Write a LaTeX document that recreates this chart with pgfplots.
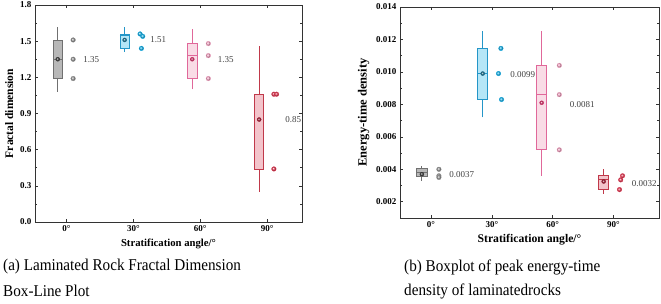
\documentclass[border=0pt]{standalone}
\usepackage{pgfplots}
\pgfplotsset{compat=1.18}
\usepackage{fontspec}
\setmainfont{Liberation Serif}
\definecolor{gfill}{HTML}{B8B8B8}\definecolor{gedge}{HTML}{707070}\definecolor{gpt}{HTML}{9A9A9A}\definecolor{gmean}{HTML}{3A3A3A}
\definecolor{cfill}{HTML}{B5E6F7}\definecolor{cedge}{HTML}{2496C8}\definecolor{cpt}{HTML}{1EB4EA}\definecolor{cmean}{HTML}{1A6F8F}
\definecolor{pfill}{HTML}{F9DCE6}\definecolor{pedge}{HTML}{E0689A}\definecolor{ppt}{HTML}{F4A6C4}\definecolor{pmean}{HTML}{D8306A}
\definecolor{rfill}{HTML}{F3C4CB}\definecolor{redge}{HTML}{C0394A}\definecolor{rpt}{HTML}{E8405A}\definecolor{rmean}{HTML}{A01830}
\pgfplotsset{
  mystyle/.style={
    scale only axis, anchor=south west,
    tick align=inside, major tick length=3pt, minor tick length=1.6pt,
    axis line style={draw=black!80, line width=0.7pt},
    every tick/.style={black!80, line width=0.6pt},
    xtick={0,1,2,3}, xticklabels={0°,30°,60°,90°},
    tick label style={font=\bfseries\fontsize{9}{10}\selectfont},
    /pgf/number format/assume math mode=true,
    xlabel={Stratification angle/°},
    minor y tick num=1,
  },
  bx/.style 2 args={draw=#1, fill=#2, line width=0.8pt, mark=none},
  wh/.style={draw=#1, line width=0.8pt, mark=none},
  mean/.style={only marks, color=#1, mark=ball, mark size=2pt, mark options={ball color=#1}},
  pts/.style={only marks, color=#1, mark=ball, mark size=2.3pt, mark options={ball color=#1}},
}
\begin{document}
\begin{tikzpicture}
\useasboundingbox (0pt,0pt) rectangle (661pt,303pt);
% ---------------- left -----------------
\begin{axis}[mystyle, at={(35pt,81pt)}, width=267pt, height=217pt,
  xmin=-0.47, xmax=3.52, ymin=0, ymax=1.8,
  ytick={0,0.3,0.6,0.9,1.2,1.5,1.8},
  yticklabel style={/pgf/number format/.cd, fixed, fixed zerofill, precision=1},
  xlabel style={font=\bfseries\fontsize{10.7}{12}\selectfont},
  ylabel style={font=\bfseries\fontsize{11.5}{13}\selectfont},
  ylabel={Fractal dimension}]
% 0 deg
\addplot[wh=gedge] coordinates {(-0.13,1.08)(-0.13,1.62)};
\addplot[bx={gedge}{gfill}] coordinates {(-0.20,1.19)(-0.06,1.19)(-0.06,1.51)(-0.20,1.51)} -- cycle;
\addplot[wh=gedge] coordinates {(-0.20,1.35)(-0.06,1.35)};
% 30 deg
\addplot[wh=cedge] coordinates {(0.87,1.41)(0.87,1.62)};
\addplot[bx={cedge}{cfill}] coordinates {(0.80,1.44)(0.94,1.44)(0.94,1.56)(0.80,1.56)} -- cycle;
\addplot[wh=cedge] coordinates {(0.80,1.55)(0.94,1.55)};
% 60 deg
\addplot[wh=pedge] coordinates {(1.88,1.10)(1.88,1.60)};
\addplot[bx={pedge}{pfill}] coordinates {(1.81,1.19)(1.95,1.19)(1.95,1.48)(1.81,1.48)} -- cycle;
\addplot[wh=pedge] coordinates {(1.81,1.38)(1.95,1.38)};
% 90 deg
\addplot[wh=redge] coordinates {(2.88,0.25)(2.88,1.46)};
\addplot[bx={redge}{rfill}] coordinates {(2.81,0.44)(2.95,0.44)(2.95,1.06)(2.81,1.06)} -- cycle;
\addplot[wh=redge] coordinates {(2.81,1.06)(2.95,1.06)};
\addplot[mean=gmean] coordinates {(-0.13,1.35)};
\addplot[mean=cmean] coordinates {(0.87,1.51)};
\addplot[mean=pmean] coordinates {(1.88,1.35)};
\addplot[mean=rmean] coordinates {(2.88,0.85)};
\addplot[pts=gpt] coordinates {(0.1,1.51)(0.1,1.35)(0.1,1.19)};
\addplot[pts=cpt] coordinates {(1.10,1.56)(1.14,1.54)(1.12,1.44)};
\addplot[pts=ppt] coordinates {(2.12,1.48)(2.12,1.38)(2.12,1.19)};
\addplot[pts=rpt] coordinates {(3.10,1.06)(3.14,1.06)(3.10,0.44)};
\begin{scope}[every node/.style={anchor=west, font=\fontsize{9}{10}\selectfont, text=black!75, inner sep=0pt}]
\node at (axis cs:0.25,1.35) {1.35};
\node at (axis cs:1.25,1.51) {1.51};
\node at (axis cs:2.26,1.35) {1.35};
\node at (axis cs:3.27,0.85) {0.85};
\end{scope}
\end{axis}
% ---------------- right -----------------
\begin{axis}[mystyle, at={(400pt,85pt)}, width=259pt, height=211pt,
  xmin=-0.51, xmax=3.75, ymin=0.001, ymax=0.014,
  ytick={0.002,0.004,0.006,0.008,0.010,0.012,0.014},
  scaled y ticks=false,
  yticklabel style={/pgf/number format/.cd, fixed, fixed zerofill, precision=3},
  xlabel style={font=\bfseries\fontsize{11.7}{13}\selectfont},
  ylabel style={font=\bfseries\fontsize{12.5}{14}\selectfont},
  ylabel={Energy-time density}]
% 0 deg
\addplot[wh=gedge] coordinates {(-0.15,0.0033)(-0.15,0.0042)};
\addplot[bx={gedge}{gfill}] coordinates {(-0.235,0.00355)(-0.065,0.00355)(-0.065,0.00405)(-0.235,0.00405)} -- cycle;
\addplot[wh=gedge] coordinates {(-0.235,0.0038)(-0.065,0.0038)};
% 30 deg
\addplot[wh=cedge] coordinates {(0.85,0.0072)(0.85,0.0125)};
\addplot[bx={cedge}{cfill}] coordinates {(0.765,0.0083)(0.935,0.0083)(0.935,0.01145)(0.765,0.01145)} -- cycle;
\addplot[wh=cedge] coordinates {(0.765,0.0099)(0.935,0.0099)};
% 60 deg
\addplot[wh=pedge] coordinates {(1.82,0.0036)(1.82,0.0125)};
\addplot[bx={pedge}{pfill}] coordinates {(1.735,0.0052)(1.905,0.0052)(1.905,0.0104)(1.735,0.0104)} -- cycle;
\addplot[wh=pedge] coordinates {(1.735,0.0086)(1.905,0.0086)};
% 90 deg
\addplot[wh=redge] coordinates {(2.84,0.0025)(2.84,0.0040)};
\addplot[bx={redge}{rfill}] coordinates {(2.755,0.00275)(2.925,0.00275)(2.925,0.0036)(2.755,0.0036)} -- cycle;
\addplot[wh=redge] coordinates {(2.755,0.0034)(2.925,0.0034)};
\addplot[mean=gmean] coordinates {(-0.15,0.0037)};
\addplot[mean=cmean] coordinates {(0.85,0.0099)};
\addplot[mean=pmean] coordinates {(1.82,0.0081)};
\addplot[mean=rmean] coordinates {(2.84,0.00325)};
\addplot[pts=gpt] coordinates {(0.13,0.0040)(0.13,0.0036)(0.13,0.0035)};
\addplot[pts=cpt] coordinates {(1.15,0.01145)(1.11,0.0099)(1.16,0.0083)};
\addplot[pts=ppt] coordinates {(2.11,0.0104)(2.11,0.0086)(2.11,0.0052)};
\addplot[pts=rpt] coordinates {(3.15,0.0036)(3.12,0.00335)(3.10,0.00275)};
\begin{scope}[every node/.style={anchor=west, font=\fontsize{9}{10}\selectfont, text=black!75, inner sep=0pt}]
\node at (axis cs:0.30,0.0037) {0.0037};
\node at (axis cs:1.30,0.00985) {0.0099};
\node at (axis cs:2.28,0.0080) {0.0081};
\node at (axis cs:3.30,0.0031) {0.0032};
\end{scope}
\end{axis}
% captions
\begin{scope}[every node/.style={anchor=west, inner sep=0pt, font=\fontsize{16.5}{24}\selectfont}]
\node at (3pt,36pt) {\scalebox{0.92}[1]{(a) Laminated Rock Fractal Dimension}};
\node at (3pt,12pt) {\scalebox{0.92}[1]{Box-Line Plot}};
\node at (404pt,36pt) {\scalebox{0.92}[1]{(b) Boxplot of peak energy-time}};
\node at (404pt,12pt) {\scalebox{0.92}[1]{density of laminatedrocks}};
\end{scope}
\end{tikzpicture}
\end{document}
